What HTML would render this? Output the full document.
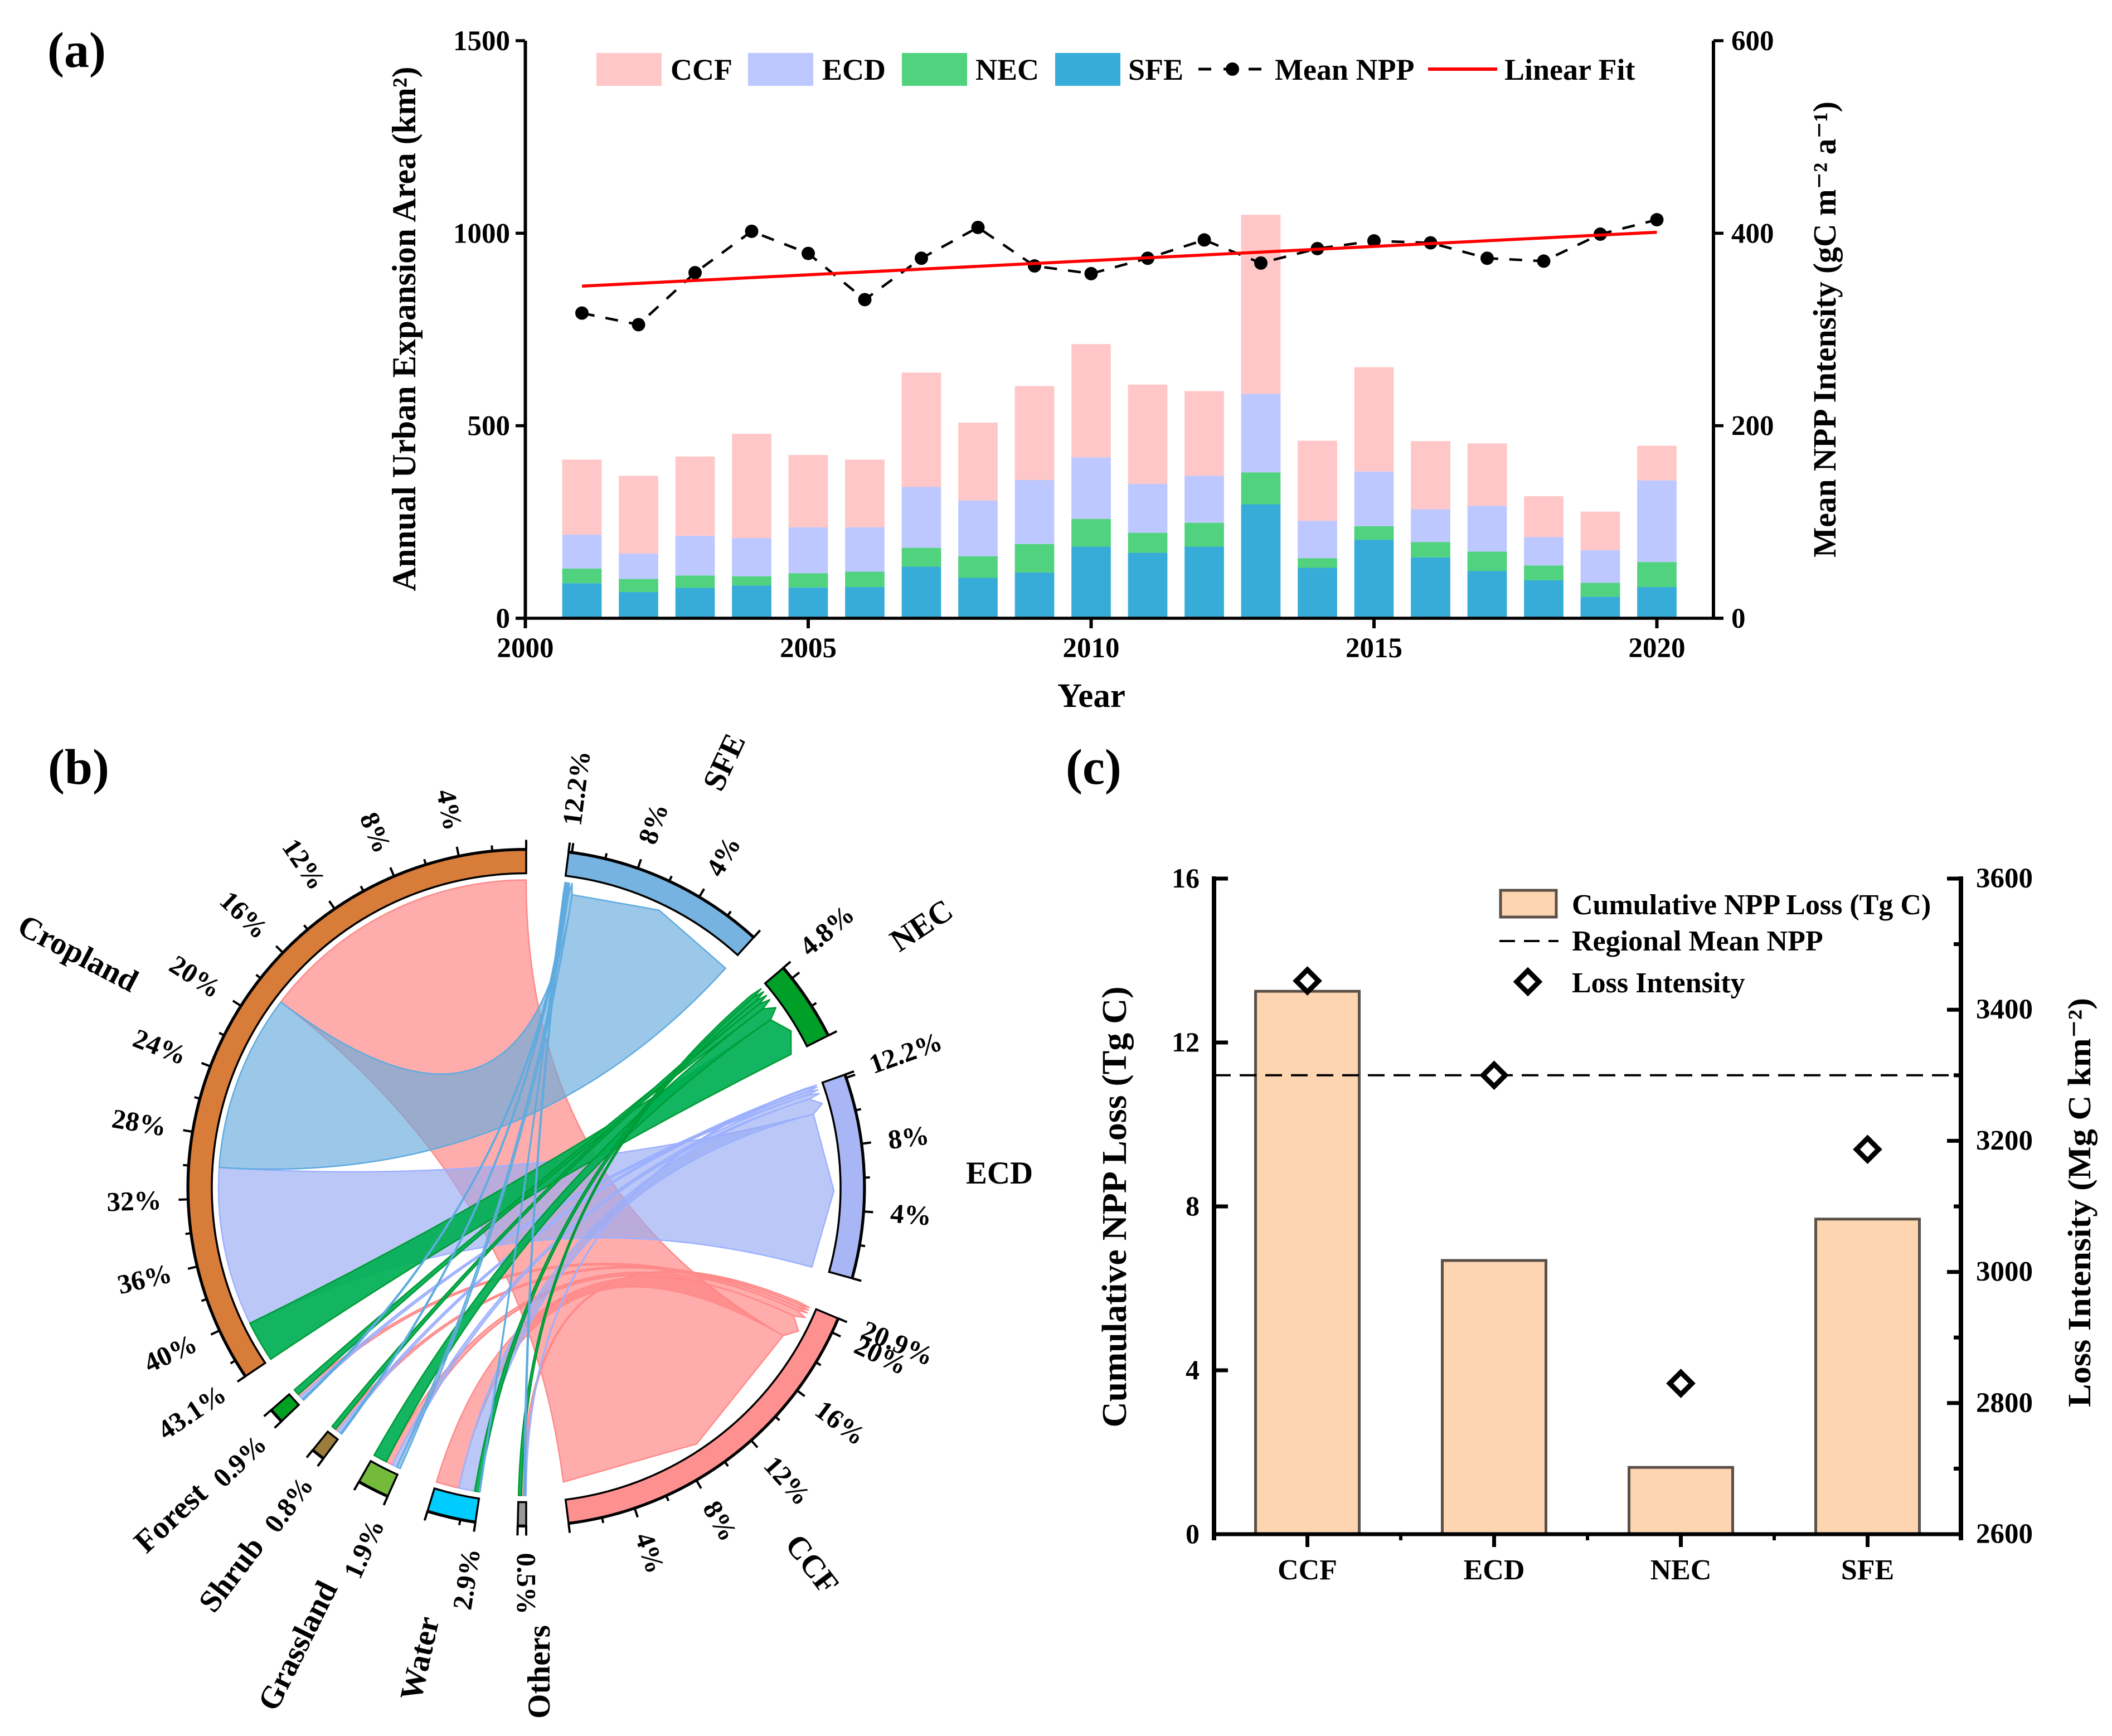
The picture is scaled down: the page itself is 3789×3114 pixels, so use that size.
<!DOCTYPE html>
<html lang="en">
<head>
<meta charset="utf-8">
<title>Urban expansion and NPP loss</title>
<style>
html,body{margin:0;padding:0;background:#fff;}
svg{display:block;}
text{font-family:"Liberation Serif","DejaVu Serif",serif;font-weight:bold;fill:#000;}
</style>
</head>
<body>
<svg id="fig" xmlns="http://www.w3.org/2000/svg" width="3789" height="3114" viewBox="0 0 3789 3114">
  <rect x="0" y="0" width="3789" height="3114" fill="#fff"/>

  <text x="85" y="120" font-size="90">(a)</text>
  <text x="86" y="1406" font-size="90">(b)</text>
  <text x="1912" y="1406" font-size="90">(c)</text>

  <g id="panelA"></g>
  <text transform="translate(745,590) rotate(-90)" text-anchor="middle" font-size="60" textLength="941" lengthAdjust="spacingAndGlyphs">Annual Urban Expansion Area (km²)</text>
  <text transform="translate(3293,591) rotate(-90)" text-anchor="middle" font-size="58" textLength="818" lengthAdjust="spacingAndGlyphs">Mean NPP Intensity (gC m⁻² a⁻¹)</text>
  <text x="1958" y="1268" text-anchor="middle" font-size="61">Year</text>

  <g>
    <rect x="1070" y="95" width="117" height="59" fill="#ffc7c7"/>
    <text x="1203" y="143" font-size="54">CCF</text>
    <rect x="1342" y="95" width="117" height="59" fill="#bcc8ff"/>
    <text x="1475" y="143" font-size="54">ECD</text>
    <rect x="1618" y="95" width="117" height="59" fill="#51d27e"/>
    <text x="1750" y="143" font-size="54">NEC</text>
    <rect x="1893" y="95" width="117" height="59" fill="#37acd8"/>
    <text x="2024" y="143" font-size="54">SFE</text>
    <line x1="2150" y1="124" x2="2263" y2="124" stroke="#000" stroke-width="5" stroke-dasharray="23 22"/>
    <circle cx="2211" cy="124" r="12" fill="#000"/>
    <text x="2287" y="143" font-size="54">Mean NPP</text>
    <line x1="2562" y1="124" x2="2686" y2="124" stroke="#ff0000" stroke-width="6"/>
    <text x="2699" y="143" font-size="54">Linear Fit</text>
  </g>

  <g id="panelB"></g>
  <g font-size="57" text-anchor="middle">
    <text transform="translate(140,1710) rotate(27.6)" dy=".33em">Cropland</text>
    <text transform="translate(306,2722) rotate(-43)" dy=".33em">Forest</text>
    <text transform="translate(415,2824) rotate(-52.7)" dy=".33em">Shrub</text>
    <text transform="translate(534,2952) rotate(-63.6)" dy=".33em">Grassland</text>
    <text transform="translate(753,2975) rotate(-77.3)" dy=".33em">Water</text>
    <text transform="translate(967,2999) rotate(-90)" dy=".33em">Others</text>
    <text transform="translate(1457,2806) rotate(52.8)" dy=".33em">CCF</text>
    <text transform="translate(1793,2104) rotate(0)" dy=".33em">ECD</text>
    <text transform="translate(1653,1660) rotate(-33.5)" dy=".33em">NEC</text>
    <text transform="translate(1299,1367) rotate(-65)" dy=".33em">SFE</text>
  </g>

  <g id="panelC"></g>
  <text transform="translate(2020,2165) rotate(-90)" text-anchor="middle" font-size="62" textLength="791" lengthAdjust="spacingAndGlyphs">Cumulative NPP Loss (Tg C)</text>
  <text transform="translate(3750,2157) rotate(-90)" text-anchor="middle" font-size="58" textLength="734" lengthAdjust="spacingAndGlyphs">Loss Intensity (Mg C km⁻²)</text>

  <g>
    <rect x="2692" y="1597" width="100" height="48" fill="#fdd5b1" stroke="#5a5048" stroke-width="5"/>
    <text x="2820" y="1640" font-size="52">Cumulative NPP Loss (Tg C)</text>
    <line x1="2690" y1="1688" x2="2796" y2="1688" stroke="#000" stroke-width="4" stroke-dasharray="28 16"/>
    <text x="2820" y="1705" font-size="52">Regional Mean NPP</text>
    <path d="M2741 1741 L2761 1761 L2741 1781 L2721 1761 Z" fill="#fff" stroke="#000" stroke-width="9"/>
    <text x="2820" y="1780" font-size="52">Loss Intensity</text>
  </g>
</svg>

<script>
/* ---------- Panel (a) data ---------- */
const years = [2001,2002,2003,2004,2005,2006,2007,2008,2009,2010,2011,2012,2013,2014,2015,2016,2017,2018,2019,2020];
const sfeArea = [91,68,79,85,80,81,134,105,119,186,170,186,296,131,204,158,123,99,56,81];
const necArea = [38,34,32,24,37,40,49,56,74,72,52,62,83,25,35,40,50,38,36,65];
const ecdArea = [88,66,103,99,119,115,158,145,166,160,127,122,204,97,142,85,119,74,85,212];
const ccfArea = [195,202,206,271,188,176,297,202,244,294,258,220,465,208,271,177,162,106,100,90];
const meanNpp = [317,305,359,402,379,331,374,406,366,358,374,393,369,384,392,390,374,371,399,414];
const fitYears = [2001,2020];
const fitNpp = [345,401];
const yearTicks = [2000,2005,2010,2015,2020];
const areaTicks = [0,500,1000,1500];
const nppTicks = [0,200,400,600];

/* ---------- Panel (b) data: percent flowing from each land type to CCF, ECD, NEC, SFE ---------- */
const targetNames = ["CCF","ECD","NEC","SFE"];
const landNames = ["Cropland","Forest","Shrub","Grassland","Water","Others"];
const flowCropland = [18.4,10.4,2.7,11.6];
const flowForest = [0.2,0.2,0.4,0.1];
const flowShrub = [0.2,0.2,0.3,0.1];
const flowGrassland = [0.45,0.3,0.9,0.25];
const flowWater = [1.5,1.05,0.3,0.05];
const flowOthers = [0.15,0.05,0.2,0.1];

/* ---------- Panel (c) data ---------- */
const lossCategories = ["CCF","ECD","NEC","SFE"];
const cumulativeLoss = [13.25,6.68,1.63,7.69];
const lossIntensity = [3444,3300,2830,3187];
const regionalMean = [3300];
const lossTicks = [0,4,8,12,16];
const intensityTicks = [2600,2800,3000,3200,3400,3600];
const intensityMinorTicks = [2700,2900,3100,3300,3500];

const NS = "http://www.w3.org/2000/svg";
function svgEl(tag, attrs, parent, txt){
  const e = document.createElementNS(NS, tag);
  for (const k in attrs) e.setAttribute(k, attrs[k]);
  if (txt !== undefined) e.textContent = txt;
  parent.appendChild(e);
  return e;
}

/* ---------- Panel (a) ---------- */
(function(){
  const g = document.getElementById("panelA");
  const x = y => 942.5 + (y - 2000) * 101.5;
  const yArea = v => 1109 - v * 1036 / 1500;
  const yNpp = v => 1109 - v * 1036 / 600;
  const barW = 70.7;
  const stacks = [
    {name:"sfe", vals:sfeArea, color:"#37acd8"},
    {name:"nec", vals:necArea, color:"#51d27e"},
    {name:"ecd", vals:ecdArea, color:"#bcc8ff"},
    {name:"ccf", vals:ccfArea, color:"#ffc7c7"}
  ];
  years.forEach((yr,i)=>{
    let base = 0;
    stacks.forEach(s=>{
      const top = base + s.vals[i];
      const r = svgEl("rect",{x:x(yr)-barW/2,y:yArea(top),width:barW,height:yArea(base)-yArea(top),fill:s.color},g);
      
      
      base = top;
    });
  });

  const axes = [
    "M942.5 73 L942.5 1127",
    "M925 1109 L3092 1109",
    "M3074 73 L3074 1109"
  ];
  axes.forEach((d,i)=>{
    const a = svgEl("path",{d:d,stroke:"#000","stroke-width":i===1?5.5:6,fill:"none"},g);
    
    
  });
  areaTicks.forEach(v=>{
    const t = svgEl("line",{x1:925,x2:942,y1:yArea(v),y2:yArea(v),stroke:"#000","stroke-width":5.5},g);
    
    
    const l = svgEl("text",{x:915,y:yArea(v)+17,"text-anchor":"end","font-size":51},g,String(v));
    
    
  });
  nppTicks.forEach(v=>{
    const t = svgEl("line",{x1:3074,x2:3092,y1:yNpp(v),y2:yNpp(v),stroke:"#000","stroke-width":5.5},g);
    
    
    const l = svgEl("text",{x:3106,y:yNpp(v)+17,"font-size":51},g,String(v));
    
    
  });
  yearTicks.forEach(v=>{
    const t = svgEl("line",{x1:x(v),x2:x(v),y1:1109,y2:1127,stroke:"#000","stroke-width":6},g);
    
    
    const l = svgEl("text",{x:x(v),y:1179,"text-anchor":"middle","font-size":51},g,String(v));
    
    
  });

  const lineD = years.map((yr,i)=>(i?"L":"M")+x(yr)+" "+yNpp(meanNpp[i])).join(" ");
  const ml = svgEl("path",{d:lineD,fill:"none",stroke:"#000","stroke-width":4.5,"stroke-dasharray":"23 20"},g);
  
  
  years.forEach((yr,i)=>{
    const c = svgEl("circle",{cx:x(yr),cy:yNpp(meanNpp[i]),r:12,fill:"#000"},g);
    
    
  });
  const fit = svgEl("line",{x1:x(fitYears[0]),y1:yNpp(fitNpp[0]),x2:x(fitYears[1]),y2:yNpp(fitNpp[1]),stroke:"#ff0000","stroke-width":5.5},g);
  
  
})();

/* ---------- Panel (b) ---------- */
(function(){
  const g = document.getElementById("panelB");
  const cx = 944, cy = 2130.5;
  const rOut = 606, rIn = 564, rRib = 552, rTgt = 532, rLabel = 655;
  const gap = 7.2;
  const flows = [flowCropland,flowForest,flowShrub,flowGrassland,flowWater,flowOthers];
  const landSum = flows.map(f=>f.reduce((a,b)=>a+b,0));
  const tgtFlows = targetNames.map((_,t)=>flows.map(f=>f[t]));
  const tgtSum = tgtFlows.map(f=>f.reduce((a,b)=>a+b,0));
  const total = landSum.reduce((a,b)=>a+b,0) + tgtSum.reduce((a,b)=>a+b,0);
  const nodeCount = landNames.length + targetNames.length;
  const perPct = (360 - nodeCount * gap) / total;
  const pt = (r,t)=>{const a=t*Math.PI/180;return [cx+r*Math.sin(a),cy-r*Math.cos(a)];};
  const fmt = p=>p[0].toFixed(2)+" "+p[1].toFixed(2);

  const landColors = ["#d87c3a","#00a020","#9c7c3c","#74bb3c","#00ccff","#999999"];
  const tgtColors = ["#ff9090","#a8b6f5","#009f28","#76b3e0"];
  const ribFill = ["#ff7f7f","#96aaf3","#00af53","#65aadd"];
  const ribStroke = ["#ff8a8a","#9db0ff","#009a35","#5fabe0"];
  const ribOpacity = [0.65,0.65,0.92,0.65];

  let theta = 360;
  const landNodes = [], tgtNodes = [];
  landNames.forEach((n,i)=>{
    landNodes.push({name:n,start:theta,sum:landSum[i],color:landColors[i]});
    theta -= landSum[i]*perPct + gap;
  });
  targetNames.forEach((n,i)=>{
    tgtNodes.push({name:n,start:theta,sum:tgtSum[i],color:tgtColors[i]});
    theta -= tgtSum[i]*perPct + gap;
  });

  /* allocate angular ranges inside a node, largest flow first */
  function allocate(node, values){
    const order = values.map((v,i)=>[v,i]).sort((a,b)=>b[0]-a[0]);
    const out = [];
    let t = node.start;
    order.forEach(o=>{
      out[o[1]] = {a0:t,a1:t-o[0]*perPct};
      t -= o[0]*perPct;
    });
    return out;
  }
  const landAlloc = landNodes.map((n,i)=>allocate(n,flows[i]));
  const tgtAlloc = tgtNodes.map((n,i)=>allocate(n,tgtFlows[i]));

  targetNames.forEach((tn,t)=>{
    landNames.forEach((ln,l)=>{
      const s = landAlloc[l][t], d = tgtAlloc[t][l];
      const c = cx+" "+cy;
      const mid = (d.a0+d.a1)/2;
      const large = (s.a0-s.a1)>180?1:0;
      const path = "M"+fmt(pt(rRib,s.a0))+" A"+rRib+" "+rRib+" 0 "+large+" 0 "+fmt(pt(rRib,s.a1))+
        " Q"+c+" "+fmt(pt(rTgt,d.a0))+" L"+fmt(pt(rRib,mid))+" L"+fmt(pt(rTgt,d.a1))+
        " Q"+c+" "+fmt(pt(rRib,s.a0))+" Z";
      const r = svgEl("path",{d:path,fill:ribFill[t],"fill-opacity":ribOpacity[t],stroke:ribStroke[t],"stroke-width":2.5,"stroke-linejoin":"round"},g);
      
      
    });
  });

  function drawNode(node){
    const key = node.name.toLowerCase();
    const t0 = node.start, t1 = node.start - node.sum*perPct;
    const band = "M"+fmt(pt(rOut,t0))+" A"+rOut+" "+rOut+" 0 0 0 "+fmt(pt(rOut,t1))+
      " L"+fmt(pt(rIn,t1))+" A"+rIn+" "+rIn+" 0 0 1 "+fmt(pt(rIn,t0))+" Z";
    const b = svgEl("path",{d:band,fill:node.color,stroke:"#000","stroke-width":3.5,"stroke-linejoin":"miter"},g);
    
    
    const edge = svgEl("path",{d:"M"+fmt(pt(rOut+1,t0))+" A"+(rOut+1)+" "+(rOut+1)+" 0 0 0 "+fmt(pt(rOut+1,t1)),fill:"none",stroke:"#000","stroke-width":5},g);
    
    

    function tick(pct,len){
      const th = t0 - pct*perPct;
      const p = pt(rOut,th), q = pt(rOut+len,th);
      const l = svgEl("line",{x1:p[0],y1:p[1],x2:q[0],y2:q[1],stroke:"#000","stroke-width":4},g);
      
      
    }
    function label(pct,txt){
      const th = t0 - pct*perPct;
      const right = th <= 180.5;
      const rot = right ? th-90 : th-270;
      const p = pt(rLabel,th);
      const tx = svgEl("text",{transform:"translate("+p[0].toFixed(2)+","+p[1].toFixed(2)+") rotate("+rot.toFixed(2)+")",y:16,"text-anchor":right?"start":"end","font-size":49},g,txt);
      
      
    }
    tick(0,18);
    for (let p=2;p<node.sum;p+=2){
      const major = p%4===0;
      tick(p,major?18:11);
      if (major && node.sum-p>=0.85) label(p,p+"%");
    }
    tick(node.sum,18);
    label(node.sum,node.sum.toFixed(1)+"%");
  }
  landNodes.forEach(drawNode);
  tgtNodes.forEach(drawNode);
})();

/* ---------- Panel (c) ---------- */
(function(){
  const g = document.getElementById("panelC");
  const L = 2178, R = 3518, B = 2752, T = 1576;
  const x = i => L + (i+0.5)*(R-L)/lossCategories.length;
  const yLoss = v => B - v*(B-T)/16;
  const yInt = v => B - (v-2600)*(B-T)/1000;
  const barW = 186;

  cumulativeLoss.forEach((v,i)=>{
    const r = svgEl("rect",{x:x(i)-barW/2,y:yLoss(v),width:barW,height:B-yLoss(v),fill:"#fdd5b1",stroke:"#5a5048","stroke-width":5},g);
    
    
  });

  const axes = ["M"+L+" "+(T-4)+" L"+L+" 2763","M"+(L-4)+" "+B+" L"+(R+4)+" "+B,"M"+R+" "+(T-4)+" L"+R+" 2763"];
  axes.forEach((d,i)=>{
    const a = svgEl("path",{d:d,stroke:"#000","stroke-width":i===1?7:8,fill:"none"},g);
    
    
  });

  lossTicks.forEach(v=>{
    if (v>0){
      const t = svgEl("line",{x1:L,x2:L+25,y1:yLoss(v),y2:yLoss(v),stroke:"#000","stroke-width":7},g);
      
      
    }
    const l = svgEl("text",{x:2152,y:yLoss(v)+16,"text-anchor":"end","font-size":50},g,String(v));
    
    
  });
  intensityTicks.forEach(v=>{
    if (v>2600){
      const t = svgEl("line",{x1:R-25,x2:R,y1:yInt(v),y2:yInt(v),stroke:"#000","stroke-width":7},g);
      
      
    }
    const l = svgEl("text",{x:3545,y:yInt(v)+16,"font-size":51},g,String(v));
    
    
  });
  intensityMinorTicks.forEach(v=>{
    const t = svgEl("line",{x1:R-13,x2:R,y1:yInt(v),y2:yInt(v),stroke:"#000","stroke-width":7},g);
    
    
  });
  lossCategories.forEach((c,i)=>{
    const t = svgEl("line",{x1:x(i),x2:x(i),y1:B,y2:2775,stroke:"#000","stroke-width":7},g);
    
    
    const l = svgEl("text",{x:x(i),y:2833,"text-anchor":"middle","font-size":52},g,c);
    
    
    if (i<lossCategories.length-1){
      const m = (x(i)+x(i+1))/2;
      const mt = svgEl("line",{x1:m,x2:m,y1:B,y2:2763,stroke:"#000","stroke-width":6},g);
      
      
    }
  });

  const mean = svgEl("line",{x1:L,x2:R,y1:yInt(regionalMean[0]),y2:yInt(regionalMean[0]),stroke:"#000","stroke-width":4,"stroke-dasharray":"30 16"},g);
  
  

  lossIntensity.forEach((v,i)=>{
    const X = x(i), Y = yInt(v), h = 20;
    const d = svgEl("path",{d:"M"+X+" "+(Y-h)+" L"+(X+h)+" "+Y+" L"+X+" "+(Y+h)+" L"+(X-h)+" "+Y+" Z",fill:"#fff",stroke:"#000","stroke-width":9},g);
    
    
  });
})();
</script>
</body>
</html>
